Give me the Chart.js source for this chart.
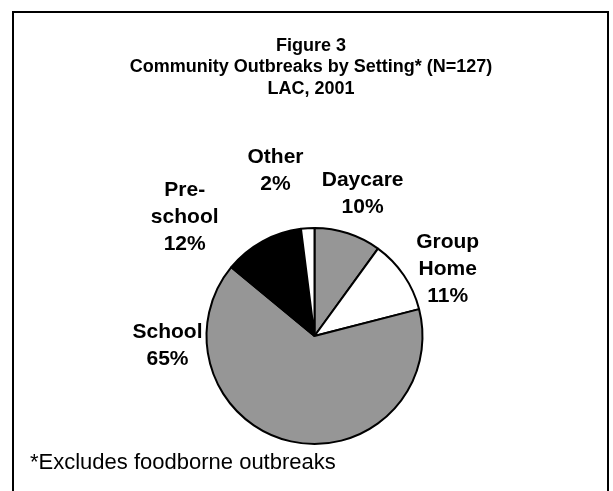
<!DOCTYPE html>
<html>
<head>
<meta charset="utf-8">
<script src="https://cdn.jsdelivr.net/npm/chart.js@4/dist/chart.umd.min.js"></script>
<style>
  html, body { margin: 0; padding: 0; background: #fff; }
  #wrap { position: relative; width: 613px; height: 491px; overflow: hidden; }
  #frame { position: absolute; left: 12px; top: 11px; width: 593px; height: 520px;
           border: 2px solid #000; border-bottom: none; box-sizing: content-box; pointer-events: none; }
  canvas { position: absolute; left: 0; top: 0; }
</style>
</head>
<body>
<div id="wrap">
  <canvas id="c" width="613" height="491"></canvas>
  <div id="frame"></div>
</div>
<script>
// ---- data ----
const categories = ['Daycare', 'Group Home', 'School', 'Pre-school', 'Other'];
const labelLines = [['Daycare'], ['Group', 'Home'], ['School'], ['Pre-', 'school'], ['Other']];
const percentValues = [10, 11, 65, 12, 2];
const sliceColors = ['#969696', '#ffffff', '#969696', '#000000', '#ffffff'];
const titleLines = ['Figure 3', 'Community Outbreaks by Setting* (N=127)', 'LAC, 2001'];
const footnote = '*Excludes foodborne outbreaks';

// label anchor: angle (deg, clockwise from top) and distance in radius units
const labelAngle = [18.7, 63.3, 266.1, 312.5, 346.7];
const labelDist = [1.39, 1.38, 1.364, 1.63, 1.57];

const textPlugin = {
  id: 'textPlugin',
  afterDraw(chart) {
    const ctx = chart.ctx;
    ctx.save();
    ctx.fillStyle = '#000';
    ctx.textAlign = 'center';
    ctx.textBaseline = 'middle';
    // title
    ctx.font = 'bold 18px "Liberation Sans", Arial, sans-serif';
    titleLines.forEach((t, i) => ctx.fillText(t, 311, 46 + i * 21.5));
    // slice labels
    const meta = chart.getDatasetMeta(0);
    const arc0 = meta.data[0];
    const cx = arc0.x, cy = arc0.y, r = arc0.outerRadius;
    ctx.font = 'bold 21px "Liberation Sans", Arial, sans-serif';
    const lh = 27;
    percentValues.forEach((v, i) => {
      const lines = labelLines[i].concat([v + '%']);
      const a = labelAngle[i] * Math.PI / 180;
      const x = cx + Math.sin(a) * r * labelDist[i];
      const y = cy - Math.cos(a) * r * labelDist[i];
      const y0 = y - (lines.length - 1) * lh / 2;
      lines.forEach((ln, j) => ctx.fillText(ln, x, y0 + j * lh));
    });
    // footnote
    ctx.textAlign = 'left';
    ctx.font = '22px "Liberation Sans", Arial, sans-serif';
    ctx.fillText(footnote, 30, 463);
    ctx.restore();
  }
};

new Chart(document.getElementById('c'), {
  type: 'pie',
  data: {
    labels: categories,
    datasets: [{
      data: percentValues,
      backgroundColor: sliceColors,
      borderColor: '#000',
      borderWidth: 2,
      borderAlign: 'center',
      radius: 108
    }]
  },
  options: {
    responsive: false,
    animation: false,
    devicePixelRatio: 1,
    layout: { padding: { left: 207, right: 191, top: 228, bottom: 47 } },
    plugins: {
      legend: { display: false },
      tooltip: { enabled: false },
      title: { display: false }
    }
  },
  plugins: [textPlugin]
});
</script>
</body>
</html>
